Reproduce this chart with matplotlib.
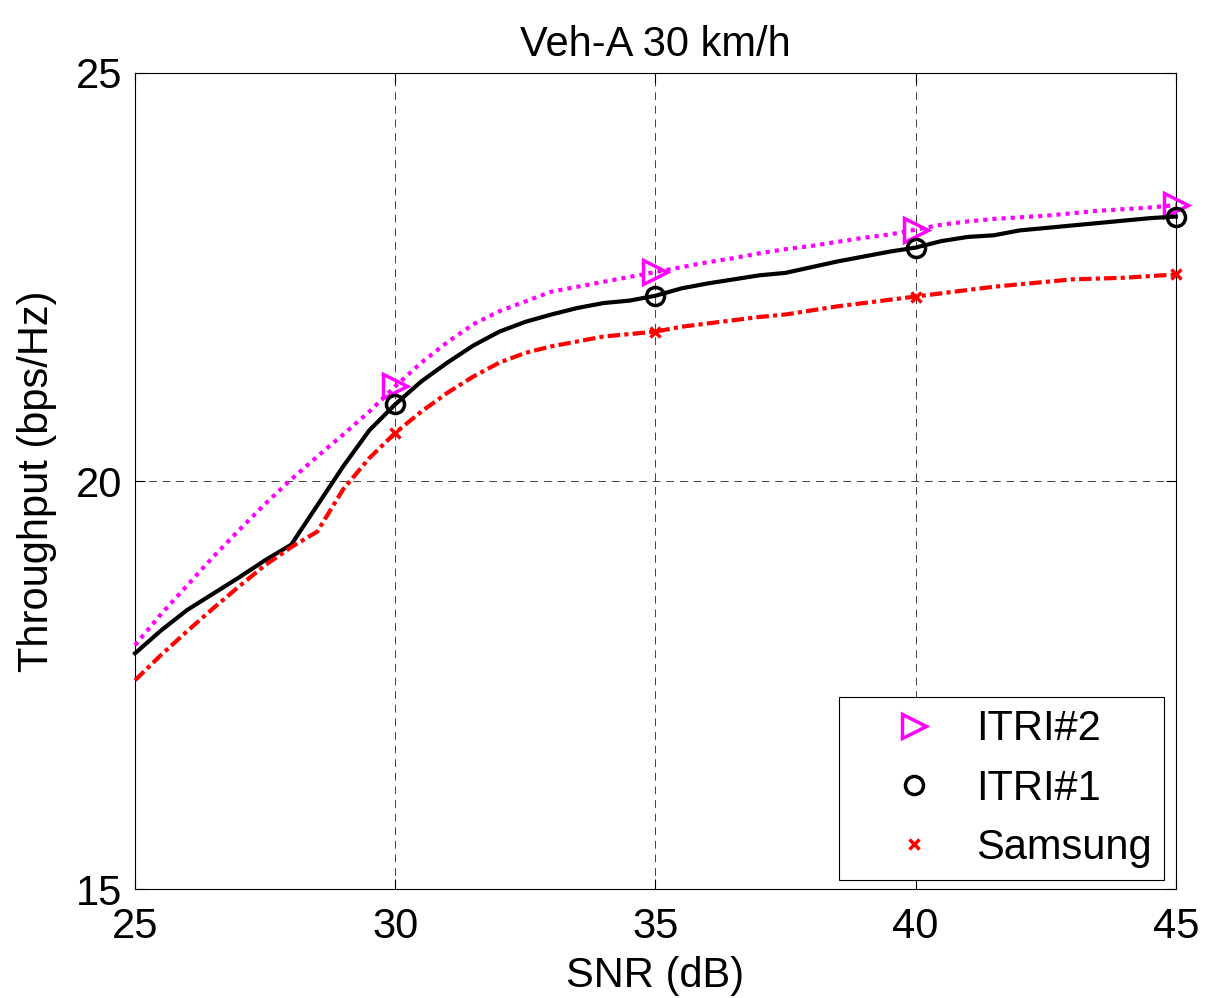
import numpy as np
import matplotlib
matplotlib.use('Agg')
import matplotlib.pyplot as plt
from matplotlib.lines import Line2D

plt.rcParams['font.family'] = ['Liberation Sans', 'DejaVu Sans']
plt.rcParams['font.size'] = 30

# SNR 点 (0.5 dB 步长)
snr = np.arange(25, 45.01, 0.5)

itri1 = [17.89, 18.17, 18.42, 18.62, 18.82, 19.03, 19.22, 19.70, 20.18, 20.62,
         20.94, 21.22, 21.45, 21.66, 21.83, 21.95, 22.04, 22.12, 22.18, 22.21,
         22.27, 22.36, 22.42, 22.47, 22.52, 22.55, 22.62, 22.69, 22.75, 22.81,
         22.86, 22.94, 22.99, 23.01, 23.07, 23.10, 23.13, 23.16, 23.19, 23.22,
         23.24]

itri2 = [17.99, 18.37, 18.72, 19.07, 19.40, 19.72, 20.02, 20.30, 20.57, 20.85,
         21.16, 21.45, 21.70, 21.92, 22.08, 22.20, 22.32, 22.38, 22.44, 22.50,
         22.56, 22.62, 22.68, 22.73, 22.79, 22.84, 22.88, 22.93, 22.98, 23.02,
         23.08, 23.14, 23.18, 23.21, 23.23, 23.25, 23.28, 23.31, 23.33, 23.35,
         23.38]

samsung = [17.56, 17.87, 18.16, 18.44, 18.71, 18.97, 19.19, 19.38, 19.90, 20.28,
           20.59, 20.85, 21.08, 21.28, 21.45, 21.57, 21.65, 21.71, 21.77, 21.80,
           21.83, 21.89, 21.93, 21.97, 22.01, 22.04, 22.09, 22.14, 22.18, 22.22,
           22.26, 22.30, 22.34, 22.38, 22.41, 22.44, 22.47, 22.48, 22.49, 22.51,
           22.53]

# 标记点位置 (30, 35, 40, 45 dB)
mark_idx = [10, 20, 30, 40]

x_ticks = [25, 30, 35, 40, 45]
y_ticks = [15, 20, 25]

MAGENTA = '#FF00FF'
RED = '#FF0000'

fig = plt.figure(figsize=(12.06, 9.98), dpi=100)
ax = fig.add_axes([0.112, 0.109, 0.863, 0.818])

ax.plot(snr, itri2, color=MAGENTA, lw=3, linestyle=(0, (1, 1.2)),
        marker='>', markevery=mark_idx, ms=17, mfc='none', mec=MAGENTA, mew=2.5,
        clip_on=False, zorder=3)
ax.plot(snr, itri1, color='black', lw=3, linestyle='-',
        marker='o', markevery=mark_idx, ms=13, mfc='none', mec='black', mew=2.5,
        clip_on=False, zorder=3)
ax.plot(snr, samsung, color=RED, lw=3, linestyle=(0, (3, 1, 1, 1)),
        marker='x', markevery=mark_idx, ms=7, mec=RED, mew=2.5,
        clip_on=False, zorder=3)

ax.set_xlim(25, 45)
ax.set_ylim(15, 25)
ax.set_xticks(x_ticks)
ax.set_yticks(y_ticks)

ax.grid(True, color='0.25', linestyle=(0, (8, 6)), linewidth=0.7)
ax.tick_params(direction='in', length=7, width=0.8, top=True, right=True,
               labelsize=30)
ax.tick_params(axis='x', pad=13)
ax.tick_params(axis='y', pad=9)
for s in ax.spines.values():
    s.set_linewidth(0.8)

ax.set_xlabel('SNR (dB)', fontsize=30, labelpad=6)
ax.set_ylabel('Throughput (bps/Hz)', fontsize=30, labelpad=14)
ax.set_title('Veh-A 30 km/h', fontsize=30, pad=12)

# 图例只显示标记
legend_elements = [
    Line2D([0], [0], linestyle='none', marker='>', ms=17, mfc='none',
           mec=MAGENTA, mew=2.5, label='ITRI#2'),
    Line2D([0], [0], linestyle='none', marker='o', ms=13, mfc='none',
           mec='black', mew=2.5, label='ITRI#1'),
    Line2D([0], [0], linestyle='none', marker='x', ms=7, mec=RED, mew=2.5,
           label='Samsung'),
]
leg = ax.legend(handles=legend_elements, loc='lower right',
                bbox_to_anchor=(0.989, 0.011), borderaxespad=0,
                fancybox=False, framealpha=1, edgecolor='black',
                handlelength=3.0, handletextpad=0.0, borderpad=0.3,
                labelspacing=0.46, fontsize=30)
leg.get_frame().set_linewidth(0.8)
leg.set_zorder(5)

plt.savefig('out.png', dpi=100)
